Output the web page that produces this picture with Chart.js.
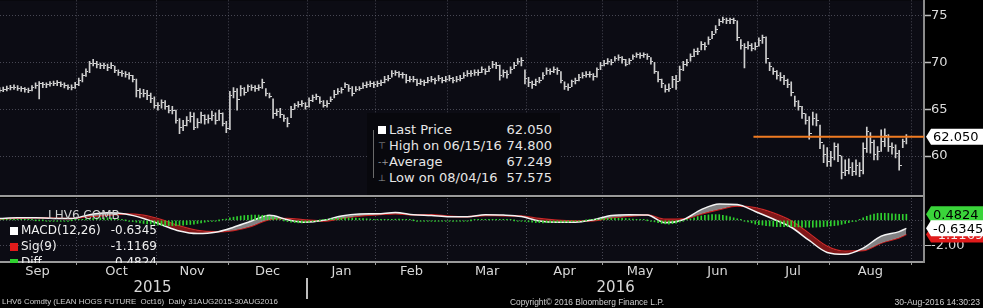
<!DOCTYPE html>
<html>
<head>
<meta charset="utf-8">
<title>LHV6 Comdty</title>
<script src="https://cdn.jsdelivr.net/npm/chart.js@4.4.1/dist/chart.umd.min.js"></script>
<style>
  html, body { margin: 0; padding: 0; background: #000; }
  #wrap { position: relative; width: 983px; height: 308px; overflow: hidden; background: #000; font-family: "DejaVu Sans", sans-serif; }
  #price { position: absolute; left: 0; top: 0; }
  #macd { position: absolute; left: 0; top: 197px; }
  #stats { position: absolute; left: 367px; top: 113px; width: 193px; height: 82px; background: #08080d; color: #e6e6e6; font-size: 13px; }
  .srow { position: absolute; left: 0; width: 193px; height: 16px; line-height: 16px; white-space: nowrap; }
  .srow .lb { position: absolute; left: 22px; }
  .srow .vl { position: absolute; right: 8px; }
  .srow .ic { position: absolute; left: 11px; color: #9a9a9a; font-size: 9px; }
  .srow .sq { left: 11px; top: 4px; width: 8px; height: 8px; background: #fff; }
  #conn { position: absolute; left: 6px; top: 17px; width: 1px; height: 48px; background: #6a6a6a; }
  #mleg { position: absolute; left: 0; top: 208px; width: 170px; height: 55px; overflow: hidden; color: #f0f0f0; font-size: 12px; }
  .mrow { position: absolute; left: 0; width: 170px; height: 15px; line-height: 15px; white-space: nowrap; }
  .mrow .sw { position: absolute; left: 10px; top: 4px; width: 8px; height: 8px; }
  .mrow .lb { position: absolute; left: 21px; }
  .mrow .vl { position: absolute; right: 13px; }
  #foot span { position: absolute; top: 297px; font-family: "Liberation Sans", sans-serif; color: #cfcfcf; white-space: pre; line-height: 10px; }
</style>
</head>
<body>
<div id="wrap">
  <canvas id="price" width="983" height="197"></canvas>
  <canvas id="macd" width="983" height="111"></canvas>

  <div id="stats">
    <div id="conn"></div>
    <div class="srow" style="top:9px"><span class="ic sq"></span><span class="lb">Last Price</span><span class="vl">62.050</span></div>
    <div class="srow" style="top:25px"><span class="ic">&#x22A4;</span><span class="lb">High on 06/15/16</span><span class="vl">74.800</span></div>
    <div class="srow" style="top:41px"><span class="ic">-+</span><span class="lb">Average</span><span class="vl">67.249</span></div>
    <div class="srow" style="top:57px"><span class="ic">&#x22A5;</span><span class="lb">Low on 08/04/16</span><span class="vl">57.575</span></div>
  </div>

  <div id="mleg">
    <div class="mrow" style="top:0"><span class="lb" style="left:48px;color:#d0d0d0">LHV6 COMB</span></div>
    <div class="mrow" style="top:15px"><span class="sw" style="background:#ffffff"></span><span class="lb">MACD(12,26)</span><span class="vl">-0.6345</span></div>
    <div class="mrow" style="top:31px"><span class="sw" style="background:#e01b1b"></span><span class="lb">Sig(9)</span><span class="vl">-1.1169</span></div>
    <div class="mrow" style="top:47px"><span class="sw" style="background:#2fd12f"></span><span class="lb">Diff</span><span class="vl">0.4824</span></div>
  </div>

  <div id="foot">
    <span style="left:2px;font-size:7.9px">LHV6 Comdty (LEAN HOGS FUTURE  Oct16)  Daily 31AUG2015-30AUG2016</span>
    <span style="left:510px;font-size:8.4px">Copyright© 2016 Bloomberg Finance L.P.</span>
    <span style="right:3px;font-size:8.6px">30-Aug-2016 14:30:23</span>
  </div>
</div>

<script>
// months (first trading-day index of each month, last entry = Sep 1 2016)
const monthNames = ['Sep', 'Oct', 'Nov', 'Dec', 'Jan', 'Feb', 'Mar', 'Apr', 'May', 'Jun', 'Jul', 'Aug'];
const monthStarts = [0, 22, 44, 64, 86, 105, 125, 147, 168, 189, 211, 231, 254];
const yearNames = ['2015', '2016'];
const yearStarts = [0, 86];
const priceTicks = [60, 65, 70, 75];
const macdTicks = [-2, 0];

// daily bars, 31 Aug 2015 .. 30 Aug 2016
const closes = [
  67.0, 67.1, 67.2, 67.35, 67.35, 67.25, 67.15, 67.05, 67.0, 67.3, 67.55, 67.7, 67.6, 67.6, 67.75, 67.75, 67.8, 67.65, 67.55, 67.35, 67.35, 67.6,
  68.1, 68.6, 69.0, 69.9, 69.9, 69.75, 69.6, 69.6, 69.45, 69.7, 69.1, 68.9, 68.75, 68.7, 68.55, 68.2, 67.0, 66.7, 66.7, 66.5, 66.1, 65.4,
  65.4, 65.7, 65.3, 64.9, 64.9, 63.8, 63.0, 63.3, 63.8, 64.2, 63.0, 63.6, 64.3, 63.9, 64.0, 64.3, 63.8, 64.5, 63.5, 62.9,
  66.5, 66.9, 66.0, 67.2, 66.8, 67.4, 67.3, 67.2, 67.3, 67.8, 66.7, 66.4, 64.5, 64.7, 64.4, 64.0, 63.5, 65.0, 65.4, 65.5, 65.6, 65.3,
  65.9, 66.2, 66.3, 65.8, 65.4, 65.6, 66.0, 66.6, 66.9, 67.1, 67.6, 67.2, 66.7, 67.1, 67.2, 67.5, 67.6, 67.7, 67.6,
  67.7, 67.8, 68.2, 68.3, 68.8, 68.9, 68.7, 68.7, 68.0, 68.2, 68.2, 67.7, 67.9, 67.8, 68.1, 68.2, 68.0, 68.3, 68.1, 68.2,
  68.3, 68.1, 68.2, 68.3, 68.6, 68.8, 68.8, 68.9, 68.9, 69.2, 69.0, 69.3, 69.8, 69.7, 68.6, 68.9, 68.7, 69.2, 69.7, 70.1, 70.2, 68.3,
  67.8, 67.6, 67.9, 68.1, 68.6, 69.1, 69.0, 69.2, 69.1, 68.1, 67.4, 67.3, 67.9, 68.0, 68.4, 68.6, 68.7, 68.7, 68.5, 69.2, 69.7,
  69.9, 70.1, 70.0, 70.4, 70.5, 70.3, 69.8, 70.2, 70.6, 70.8, 70.7, 70.8, 70.6, 70.1, 69.0, 68.2, 67.7, 67.1, 67.2, 68.2, 67.9,
  69.2, 69.8, 70.0, 70.6, 71.1, 71.1, 71.9, 71.7, 72.4, 73.0, 73.5, 74.3, 74.6, 74.4, 74.5, 74.4, 72.6, 71.8, 71.6, 71.8, 71.5, 71.7,
  72.3, 72.6, 70.4, 69.5, 69.0, 68.6, 68.4, 68.0, 67.6, 66.8, 65.8, 65.3, 64.5, 63.8, 62.4, 64.0, 63.8, 61.4, 60.2, 59.4,
  59.8, 61.0, 60.1, 58.3, 58.5, 58.8, 58.4, 59.0, 58.5, 60.8, 62.6, 61.4, 60.2, 60.5, 61.6, 62.2, 61.0, 60.9, 60.3, 59.0, 61.5, 62.05
];
const highs = [
  67.3, 67.35, 67.45, 67.55, 67.6, 67.5, 67.4, 67.3, 67.25, 67.5, 67.8, 67.95, 67.85, 67.8, 67.95, 68.0, 68.05, 67.9, 67.8, 67.6, 67.6, 67.85,
  68.3, 68.8, 69.3, 70.1, 70.3, 70.1, 69.9, 69.9, 69.8, 69.95, 69.6, 69.2, 69.1, 69.0, 68.9, 68.6, 68.2, 67.2, 67.1, 67.0, 66.7, 66.3,
  65.7, 66.0, 65.9, 65.4, 65.3, 64.9, 64.0, 63.8, 64.2, 64.7, 64.6, 64.0, 64.7, 64.4, 64.4, 64.8, 64.6, 64.9, 64.6, 63.7,
  66.9, 67.3, 67.2, 67.5, 67.3, 67.6, 67.6, 67.5, 67.6, 68.2, 67.2, 66.7, 66.1, 65.0, 65.1, 64.4, 64.1, 65.3, 65.6, 65.8, 65.9, 65.7,
  66.2, 66.5, 66.6, 66.3, 65.9, 65.9, 66.3, 67.0, 67.2, 67.3, 67.8, 67.6, 67.4, 67.4, 67.4, 67.8, 67.9, 68.0, 67.9,
  68.0, 68.1, 68.5, 68.6, 69.1, 69.1, 69.0, 68.9, 68.7, 68.5, 68.5, 68.2, 68.2, 68.1, 68.4, 68.5, 68.3, 68.6, 68.4, 68.5,
  68.6, 68.4, 68.5, 68.6, 68.9, 69.1, 69.1, 69.2, 69.2, 69.5, 69.3, 69.6, 70.1, 70.0, 69.7, 69.2, 69.1, 69.5, 70.0, 70.4, 70.5, 69.2,
  68.4, 68.0, 68.2, 68.4, 68.9, 69.4, 69.3, 69.5, 69.4, 69.0, 67.9, 67.7, 68.1, 68.3, 68.7, 68.9, 69.0, 69.0, 68.8, 69.4, 70.0,
  70.2, 70.4, 70.3, 70.6, 70.8, 70.6, 70.3, 70.4, 70.8, 71.0, 71.0, 71.0, 70.9, 70.5, 70.0, 69.0, 68.2, 67.6, 67.7, 68.5, 68.6,
  69.6, 70.1, 70.3, 70.9, 71.4, 71.5, 72.2, 72.1, 72.7, 73.3, 73.9, 74.6, 74.8, 74.7, 74.7, 74.7, 74.4, 72.4, 72.0, 72.2, 72.0, 72.1,
  72.6, 72.9, 72.7, 70.0, 69.4, 69.1, 68.9, 68.6, 68.2, 67.9, 66.4, 65.9, 65.3, 64.5, 64.2, 64.7, 64.5, 63.3, 61.2, 60.9,
  60.5, 61.4, 61.3, 60.0, 59.6, 59.7, 59.3, 59.6, 59.3, 61.4, 63.1, 62.5, 61.7, 61.0, 62.8, 62.9, 62.3, 61.4, 61.2, 60.6, 61.8, 62.3
];
const lows = [
  66.8, 66.85, 66.95, 67.05, 67.1, 67.0, 66.9, 66.8, 66.75, 66.95, 67.2, 66.1, 67.3, 67.3, 67.45, 67.5, 67.5, 67.4, 67.25, 67.1, 67.05, 67.2,
  67.5, 67.9, 68.5, 68.9, 69.6, 69.4, 69.3, 69.3, 69.1, 69.3, 68.9, 68.6, 68.5, 68.4, 68.2, 67.9, 66.3, 66.2, 66.3, 66.0, 65.7, 65.1,
  64.9, 65.1, 65.0, 64.6, 64.5, 63.5, 62.4, 62.7, 63.2, 63.6, 62.8, 63.0, 63.5, 63.4, 63.5, 63.8, 63.4, 63.8, 63.2, 62.5,
  62.8, 66.2, 64.9, 66.4, 66.5, 66.9, 67.0, 66.9, 67.0, 67.2, 66.4, 66.2, 64.0, 64.3, 64.1, 63.7, 63.1, 64.1, 65.0, 65.2, 65.3, 65.0,
  65.2, 65.8, 66.0, 65.6, 65.2, 65.2, 65.8, 66.2, 66.6, 66.7, 67.3, 66.9, 66.4, 66.9, 67.0, 67.2, 67.3, 67.4, 67.3,
  67.4, 67.5, 67.8, 68.0, 68.4, 68.6, 68.4, 68.3, 67.8, 67.9, 67.9, 67.5, 67.6, 67.5, 67.8, 67.9, 67.7, 68.0, 67.8, 67.9,
  68.0, 67.8, 67.9, 68.0, 68.3, 68.5, 68.5, 68.6, 68.6, 68.9, 68.7, 69.0, 69.4, 69.3, 68.1, 68.4, 68.3, 68.8, 69.3, 69.8, 69.6, 67.7,
  67.4, 67.2, 67.5, 67.8, 68.2, 68.7, 68.7, 68.9, 68.7, 67.8, 67.1, 67.0, 67.4, 67.7, 68.0, 68.3, 68.4, 68.4, 68.1, 68.4, 69.2,
  69.6, 69.8, 69.7, 70.1, 70.2, 69.9, 69.6, 69.8, 70.3, 70.5, 70.4, 70.5, 70.3, 69.8, 68.8, 67.9, 67.3, 66.8, 66.9, 67.3, 67.1,
  68.0, 69.1, 69.6, 70.1, 70.6, 70.8, 71.3, 71.3, 71.9, 72.5, 73.1, 73.9, 74.2, 74.1, 74.1, 74.1, 72.3, 71.4, 69.4, 71.4, 71.2, 71.3,
  71.7, 72.0, 69.9, 69.1, 68.7, 68.2, 68.0, 67.6, 67.3, 66.4, 65.3, 64.9, 64.0, 63.4, 61.8, 63.3, 63.2, 60.8, 59.3, 58.9,
  58.9, 59.6, 59.4, 57.575, 57.9, 58.1, 57.9, 58.0, 57.8, 58.1, 60.4, 60.3, 59.6, 59.6, 60.5, 61.0, 60.5, 60.2, 59.8, 58.5, 60.9, 61.3
];

// MACD(12,26) and Sig(9), read every 5 bars
const macdIdx = [0, 5, 10, 15, 20, 25, 30, 35, 40, 45, 50, 55, 60, 65, 70, 75, 80, 85, 90, 95, 100, 105, 110, 115, 120, 125,
  130, 135, 140, 145, 150, 155, 160, 165, 170, 175, 180, 185, 190, 195, 200, 205, 210, 215, 220, 225, 230, 235, 240, 245, 250, 252];
const macdVals = [0.15, 0.2, 0.2, 0.15, 0.15, 0.45, 0.6, 0.5, 0.15, -0.35, -0.85, -1.05, -0.95, -0.55, -0.05, 0.4, 0.05, -0.15, 0.0, 0.35,
  0.5, 0.52, 0.62, 0.45, 0.38, 0.28, 0.28, 0.45, 0.42, 0.3, -0.05, -0.15, -0.15, 0.05, 0.38, 0.45, 0.42, -0.2, 0.05, 0.85,
  1.3, 1.25, 0.7, 0.1, -0.55, -1.6, -2.55, -2.7, -2.2, -1.25, -0.9, -0.6345];
const sigVals = [0.1, 0.16, 0.2, 0.17, 0.15, 0.3, 0.4, 0.5, 0.4, 0.05, -0.45, -0.8, -0.9, -0.8, -0.47, 0.07, 0.15, 0.03, -0.05, 0.15,
  0.35, 0.45, 0.53, 0.45, 0.45, 0.33, 0.29, 0.39, 0.37, 0.35, 0.14, 0.0, -0.05, -0.03, 0.2, 0.33, 0.42, 0.08, 0.1, 0.5,
  0.85, 1.13, 1.0, 0.58, -0.05, -1.05, -2.07, -2.45, -2.4, -1.81, -1.38, -1.1169];
// Diff histogram, one per bar
const diffVals = [
  0.05, 0.05, 0.05, 0.05, 0.05, 0.04, 0.03, 0.03, 0.02, 0.01, 0, 0, 0, -0.01, -0.02, -0.02, -0.03, -0.03, -0.02, -0.01, 0, 0.02,
  0.05, 0.08, 0.12, 0.15, 0.18, 0.2, 0.2, 0.2, 0.2, 0.18, 0.15, 0.1, 0.05, 0, -0.05, -0.1, -0.15, -0.2, -0.25, -0.28, -0.3, -0.34,
  -0.38, -0.4, -0.42, -0.42, -0.42, -0.42, -0.4, -0.38, -0.35, -0.33, -0.3, -0.25, -0.2, -0.15, -0.1, -0.08, -0.05, 0, 0.05, 0.1,
  0.2, 0.25, 0.3, 0.34, 0.38, 0.4, 0.42, 0.42, 0.42, 0.4, 0.38, 0.33, 0.28, 0.2, 0.1, 0, -0.1, -0.14, -0.18, -0.2, -0.2, -0.18,
  -0.15, -0.1, -0.05, 0, 0.05, 0.08, 0.12, 0.15, 0.18, 0.2, 0.2, 0.2, 0.18, 0.17, 0.15, 0.14, 0.12, 0.1, 0.08,
  0.07, 0.06, 0.06, 0.07, 0.08, 0.09, 0.1, 0.08, 0.06, 0.03, 0, -0.02, -0.04, -0.05, -0.06, -0.07, -0.07, -0.07, -0.06, -0.05,
  -0.05, -0.04, -0.04, -0.03, -0.02, -0.01, 0, 0.02, 0.03, 0.05, 0.06, 0.07, 0.08, 0.07, 0.06, 0.05, 0.03, 0.02, 0, -0.02, -0.05, -0.09,
  -0.12, -0.15, -0.18, -0.19, -0.2, -0.19, -0.18, -0.16, -0.15, -0.15, -0.15, -0.14, -0.12, -0.1, -0.08, -0.04, 0, 0.04, 0.08, 0.1, 0.12,
  0.16, 0.17, 0.18, 0.18, 0.17, 0.16, 0.14, 0.12, 0.1, 0.08, 0.05, 0.02, 0, -0.06, -0.12, -0.18, -0.25, -0.28, -0.3, -0.27, -0.22,
  -0.14, -0.05, 0.04, 0.12, 0.2, 0.3, 0.35, 0.4, 0.43, 0.45, 0.45, 0.45, 0.4, 0.35, 0.28, 0.2, 0.12, 0.05, -0.05, -0.12, -0.2, -0.3,
  -0.34, -0.38, -0.42, -0.45, -0.48, -0.5, -0.5, -0.5, -0.5, -0.5, -0.51, -0.52, -0.54, -0.55, -0.55, -0.55, -0.54, -0.52, -0.5, -0.48,
  -0.45, -0.42, -0.38, -0.32, -0.25, -0.18, -0.1, -0.02, 0.08, 0.2, 0.32, 0.42, 0.5, 0.55, 0.56, 0.56, 0.55, 0.52, 0.5, 0.48, 0.47, 0.4824
];
const lastLineFrom = 209.5;

Chart.defaults.font.family = '"DejaVu Sans", sans-serif';
Chart.defaults.font.size = 13;
Chart.defaults.color = '#d8d8d8';
Chart.defaults.animation = false;

const GRID = 'rgba(120,120,135,0.55)';
const xMin = 0.11, xMax = 256.9;

const bounds = monthStarts.slice(1).map(s => s - 0.5);
const monthLabelAt = new Map();
monthNames.forEach((m, k) => monthLabelAt.set((monthStarts[k] + monthStarts[k + 1] - 1) / 2, m));
const monthTickValues = bounds.concat([...monthLabelAt.keys()]).sort((a, b) => a - b);
const yearLabelAt = new Map();
yearNames.forEach((y, k) => {
  const a = yearStarts[k] - 0.5;
  const b = k + 1 < yearStarts.length ? yearStarts[k + 1] - 0.5 : xMax;
  yearLabelAt.set((a + b) / 2, y);
});
const isBound = c => c.tick && bounds.includes(c.tick.value);

const plotBg = {
  id: 'plotBg',
  beforeDraw(chart) {
    const { ctx, chartArea: a } = chart;
    ctx.save();
    ctx.fillStyle = '#0c0c14';
    ctx.fillRect(a.left, a.top, a.width, a.height);
    ctx.restore();
  }
};

function drawBadge(ctx, left, right, y, text, bg, fg) {
  const h = 16;
  ctx.save();
  ctx.beginPath();
  ctx.moveTo(left, y);
  ctx.lineTo(left + 5, y - h / 2);
  ctx.lineTo(right, y - h / 2);
  ctx.lineTo(right, y + h / 2);
  ctx.lineTo(left + 5, y + h / 2);
  ctx.closePath();
  ctx.fillStyle = bg;
  ctx.fill();
  ctx.fillStyle = fg;
  ctx.font = '13px "DejaVu Sans", sans-serif';
  ctx.textBaseline = 'middle';
  ctx.fillText(text, left + 7, y + 1);
  ctx.restore();
}

// close tick to the right of each bar
const tickImg = document.createElement('canvas');
tickImg.width = 5; tickImg.height = 1;
const tctx = tickImg.getContext('2d');
tctx.fillStyle = '#d4d4d4';
tctx.fillRect(3, 0, 2, 1);

const last = closes.length - 1;

// tiny lineHeight keeps the right-axis labels from reserving space above/below the plot
const axisFont = { size: 13, lineHeight: 0.05 };

new Chart(document.getElementById('price'), {
  type: 'bar',
  data: {
    datasets: [{
      type: 'bar',
      data: closes.map((c, i) => ({ x: i, y: [lows[i], highs[i]] })),
      backgroundColor: '#cfcfcf',
      barThickness: 1,
      borderWidth: 0,
      order: 2
    }, {
      type: 'line',
      data: closes.map((c, i) => ({ x: i, y: c })),
      showLine: false,
      pointStyle: tickImg,
      pointRadius: 2,
      order: 1
    }, {
      type: 'line',
      data: [{ x: lastLineFrom, y: closes[last] }, { x: xMax, y: closes[last] }],
      borderColor: '#f07b22',
      borderWidth: 2,
      pointRadius: 0,
      order: 0
    }]
  },
  options: {
    responsive: false,
    layout: { autoPadding: false, padding: 0 },
    plugins: { legend: { display: false }, tooltip: { enabled: false } },
    scales: {
      x: {
        type: 'linear', min: xMin, max: xMax, offset: false,
        afterBuildTicks: s => { s.ticks = bounds.map(v => ({ value: v })); },
        afterFit: s => { s.height = 1; },
        ticks: { display: false },
        grid: { color: GRID, drawTicks: false, offset: false },
        border: { display: true, color: '#9a9a9a', width: 2, dash: [1, 2] }
      },
      y: {
        position: 'right', min: 55.745, max: 76.596,
        afterBuildTicks: s => { s.ticks = priceTicks.map(v => ({ value: v })); },
        afterFit: s => { s.width = 59; },
        ticks: { color: '#dcdcdc', padding: 0, font: axisFont },
        grid: { color: GRID, tickColor: '#bdbdbd', tickLength: 7, tickWidth: 1.5 },
        border: { display: true, color: '#8c8c8c', width: 2, dash: [1, 2] }
      }
    }
  },
  plugins: [plotBg, {
    id: 'lastBadge',
    afterDraw(chart) {
      const y = chart.scales.y.getPixelForValue(closes[last]);
      drawBadge(chart.ctx, chart.chartArea.right + 2, chart.width, y, closes[last].toFixed(3), '#ffffff', '#000000');
    }
  }]
});

new Chart(document.getElementById('macd'), {
  type: 'bar',
  data: {
    datasets: [{
      type: 'line',
      data: macdIdx.map((x, k) => ({ x: x, y: macdVals[k] })),
      borderColor: '#f4f4f4',
      borderWidth: 1.5,
      pointRadius: 0,
      cubicInterpolationMode: 'monotone',
      fill: { target: '+1', above: 'rgba(150,150,150,0.85)', below: 'rgba(140,24,24,0.9)' },
      order: 1
    }, {
      type: 'line',
      data: macdIdx.map((x, k) => ({ x: x, y: sigVals[k] })),
      borderColor: '#d41e1e',
      borderWidth: 1.5,
      pointRadius: 0,
      cubicInterpolationMode: 'monotone',
      fill: false,
      order: 2
    }, {
      type: 'bar',
      data: diffVals.map((d, i) => ({ x: i, y: d })),
      backgroundColor: '#2fd12f',
      barThickness: 1,
      minBarLength: 1,
      borderWidth: 0,
      order: 0
    }]
  },
  options: {
    responsive: false,
    layout: { autoPadding: false, padding: { top: 1, bottom: 9, left: 0, right: 0 } },
    plugins: { legend: { display: false }, tooltip: { enabled: false } },
    scales: {
      x: {
        type: 'linear', min: xMin, max: xMax, offset: false, weight: 0,
        afterBuildTicks: s => { s.ticks = monthTickValues.map(v => ({ value: v })); },
        ticks: {
          autoSkip: false, maxRotation: 0, padding: 0, color: '#d8d8d8',
          font: { size: 13, lineHeight: 1 },
          callback: v => monthLabelAt.get(v) || ''
        },
        grid: {
          offset: false,
          color: c => isBound(c) ? GRID : 'rgba(0,0,0,0)',
          tickColor: c => isBound(c) ? '#9a9a9a' : 'rgba(0,0,0,0)',
          tickLength: 3
        },
        border: { display: true, color: '#9a9a9a', width: 2, dash: [1, 2] }
      },
      xYear: {
        type: 'linear', position: 'bottom', min: xMin, max: xMax, offset: false, weight: 1,
        afterBuildTicks: s => { s.ticks = [...yearLabelAt.keys()].map(v => ({ value: v })); },
        ticks: {
          autoSkip: false, maxRotation: 0, padding: 3, color: '#d8d8d8',
          font: { size: 15, lineHeight: 1 },
          callback: v => yearLabelAt.get(v) || ''
        },
        grid: { display: false, drawTicks: false, offset: false },
        border: { display: false }
      },
      y: {
        position: 'right', min: -3.307, max: 1.77,
        afterBuildTicks: s => { s.ticks = macdTicks.map(v => ({ value: v })); },
        afterFit: s => { s.width = 59; },
        ticks: { color: '#d8d8d8', padding: 0, font: axisFont, callback: v => v === 0 ? '' : v.toFixed(2) },
        grid: {
          color: GRID,
          tickColor: c => c.tick && c.tick.value === 0 ? 'rgba(0,0,0,0)' : '#bdbdbd',
          tickLength: 7
        },
        border: { display: true, color: '#8c8c8c', width: 2, dash: [1, 2] }
      }
    }
  },
  plugins: [plotBg, {
    id: 'macdExtras',
    afterDraw(chart) {
      const ctx = chart.ctx, ys = chart.scales.y, xs = chart.scales.x, yr = chart.scales.xYear;
      const left = chart.chartArea.right + 2;
      drawBadge(ctx, left, chart.width, ys.getPixelForValue(sigVals[sigVals.length - 1]), sigVals[sigVals.length - 1].toFixed(4), '#e01b1b', '#f0f0f0');
      drawBadge(ctx, left, chart.width, ys.getPixelForValue(diffVals[last]), diffVals[last].toFixed(4), '#3ad43a', '#000000');
      drawBadge(ctx, left, chart.width, ys.getPixelForValue(macdVals[macdVals.length - 1]), macdVals[macdVals.length - 1].toFixed(4), '#ffffff', '#000000');
      // year separator
      ctx.save();
      ctx.strokeStyle = '#bdbdbd';
      ctx.lineWidth = 2;
      yearStarts.slice(1).forEach(s => {
        const px = Math.round(xs.getPixelForValue(s - 0.5));
        ctx.beginPath();
        ctx.moveTo(px, yr.top);
        ctx.lineTo(px, yr.bottom);
        ctx.stroke();
      });
      ctx.restore();
    }
  }]
});
</script>
</body>
</html>
